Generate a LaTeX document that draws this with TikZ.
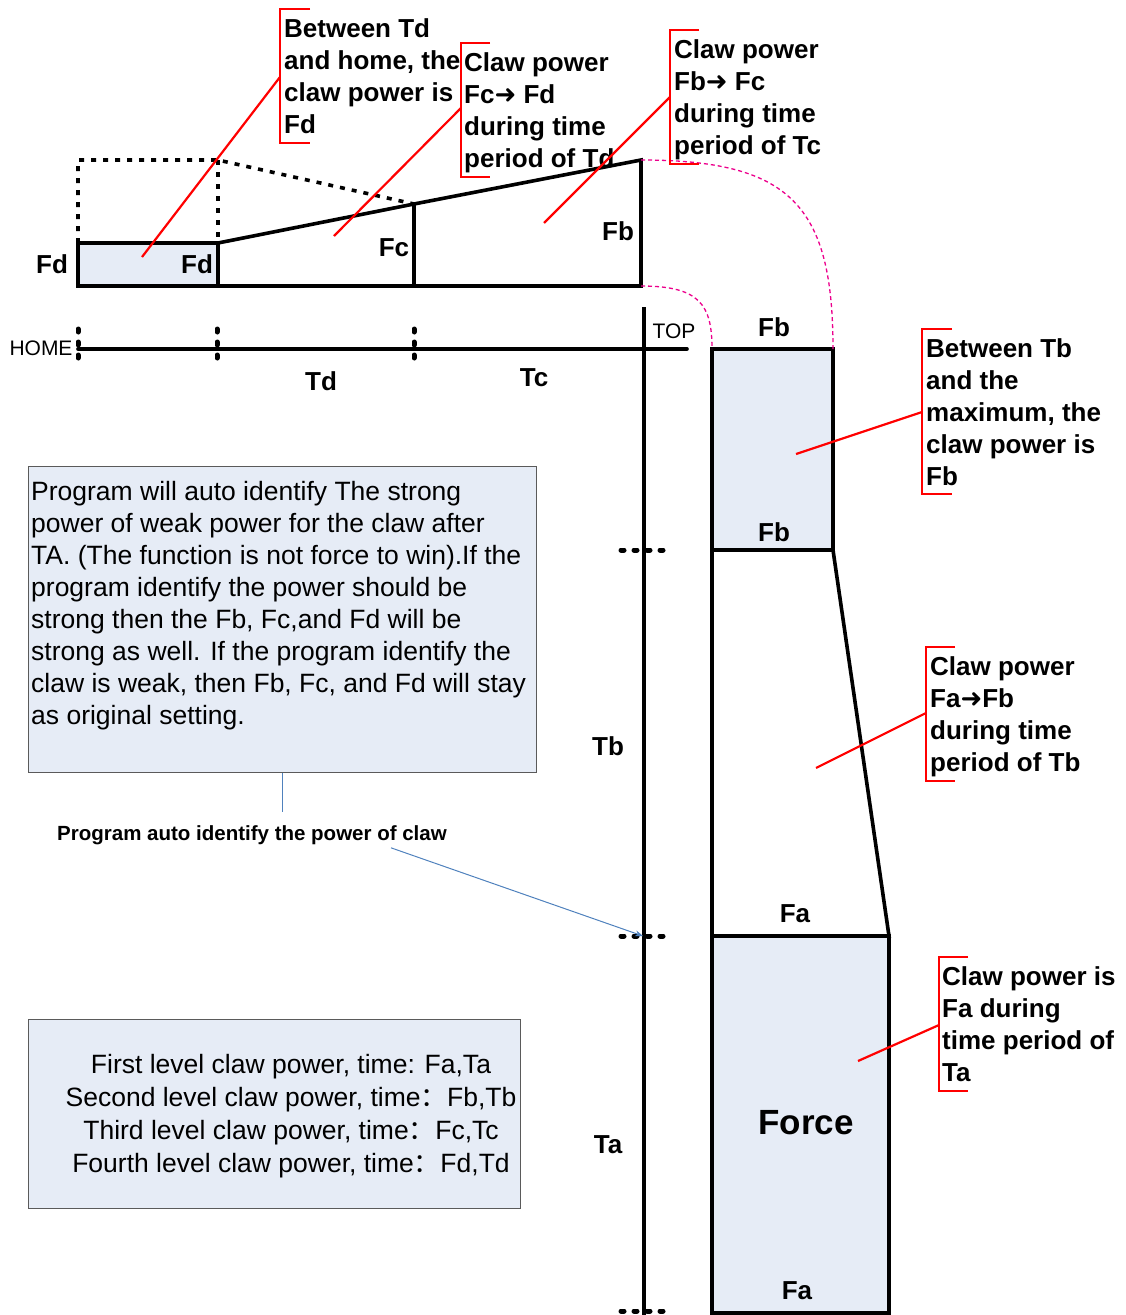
\documentclass[tikz,border=0pt]{standalone}
\usepackage{fontspec}
\setmainfont{Liberation Sans}
\newfontfamily\symf{DejaVu Sans}
\newfontfamily\cjkf{Noto Sans CJK SC}
\usetikzlibrary{arrows.meta}
\definecolor{boxblue}{RGB}{230,236,246}
\definecolor{boxgray}{RGB}{90,90,90}
\definecolor{linkblue}{RGB}{79,129,189}
\tikzset{
 thk/.style={line width=3.6pt},
 dotl/.style={line width=3.6pt, dash pattern=on 5pt off 7pt},
 tickd/.style={line width=5pt, line cap=round, dash pattern=on 3pt off 10pt},
 redc/.style={draw=red, line width=2.2pt},
 mag/.style={draw=magenta, line width=1.3pt, dash pattern=on 4pt off 3pt},
 lbl/.style={font=\bfseries\fontsize{26}{30}\selectfont, inner sep=0pt},
 small/.style={font=\fontsize{21}{24}\selectfont, inner sep=0pt},
 call/.style={font=\bfseries\fontsize{26}{32}\selectfont, align=left, anchor=north west, inner sep=0pt},
 para/.style={font=\fontsize{26.5}{32}\selectfont, align=left, anchor=north west, inner sep=0pt},
 tbox/.style={draw=boxgray, fill=boxblue, line width=1.2pt, inner sep=0pt, anchor=north west},
 bluel/.style={draw=linkblue, line width=1pt},
}
\newcommand{\arr}{{\symf\bfseries ➜}}
\newcommand{\fwc}{{\cjkf ：}}
\begin{document}
\begin{tikzpicture}[x=1pt,y=-1pt]
\path[use as bounding box] (0,0) rectangle (1126,1315);

% ---------- top chart ----------
\coordinate (d0) at (78,243);
\coordinate (d1) at (218,243);
\coordinate (c1) at (414,204);
\coordinate (fbtop) at (641,160);
\coordinate (fbbot) at (641,286);
\coordinate (b0) at (78,286);
\fill[boxblue] (78,243) rectangle (218,286);
\draw[dotl] (d0) -- (78,160) -- (218,160) -- (c1);
\draw[dotl] (218,160) -- (d1);
\draw[thk] (d0) -- (d1) -- (c1) -- (fbtop) -- (fbbot) -- (b0) -- cycle;
\draw[thk] (d1) -- (218,286);
\draw[thk] (c1) -- (414,286);
\node[lbl] (fdout) at (52,264) {Fd};
\node[lbl] (fdin) at (197,264) {Fd};
\node[lbl] (fclab) at (394,248) {Fc};
\node[lbl] (fblab) at (618,231) {Fb};

% ---------- axes ----------
\draw[thk, line cap=round] (78,349) -- (687,349);
\draw[tickd] (78,329) -- (78,362);
\draw[tickd] (217,329) -- (217,362);
\draw[tickd] (414,329) -- (414,362);
\draw[thk] (644,307) -- (644,1315);
\draw[tickd] (621,550) -- (668,550);
\draw[tickd] (621,936) -- (668,936);
\draw[tickd] (621,1311) -- (668,1311);
\node[small] (home) at (41,348) {HOME};
\node[small] (top) at (674,331) {TOP};
\node[lbl] (td) at (321,381) {Td};
\node[lbl] (tc) at (534,378) {Tc};
\node[lbl] (tb) at (608,746) {Tb};
\node[lbl] (ta) at (608,1145) {Ta};

% ---------- right chart ----------
\coordinate (rtl) at (712,349);
\coordinate (rtr) at (833,349);
\filldraw[fill=boxblue, thk] (rtl) rectangle (833,550);
\draw[fill=white, thk] (712,550) -- (833,550) -- (889,936) -- (712,936) -- cycle;
\filldraw[fill=boxblue, thk] (712,936) rectangle (889,1313);
\node[lbl] (fb1) at (774,327) {Fb};
\node[lbl] (fb2) at (774,532) {Fb};
\node[lbl] (fa1) at (795,914) {Fa};
\node[font=\bfseries\fontsize{35}{40}\selectfont, inner sep=0pt] (force) at (806,1123) {Force};
\node[lbl] (fa2) at (797,1291) {Fa};

% magenta guides
\draw[mag] (fbtop) .. controls (790,160) and (833,205) .. (rtr);
\draw[mag] (fbbot) .. controls (700,286) and (712,305) .. (rtl);

% ---------- red callouts ----------
% 1
\draw[redc] (310,9) -- (280,9) -- (280,143) -- (310,143);
\coordinate (k1) at (280,77); \coordinate (p1) at (142,257);
\draw[redc] (k1) -- (p1);
\node[call] (n1) at (284,18) {Between Td\\and home, the\\claw power is\\Fd};
% 2
\draw[redc] (490,43) -- (461,43) -- (461,177) -- (490,177);
\coordinate (k2) at (461,108); \coordinate (p2) at (334,236);
\draw[redc] (k2) -- (p2);
\node[call] (n2) at (464,52) {Claw power\\Fc\arr{} Fd\\during time\\period of Td};
% 3
\draw[redc] (699,30) -- (670,30) -- (670,164) -- (699,164);
\coordinate (k3) at (670,97); \coordinate (p3) at (544,223);
\draw[redc] (k3) -- (p3);
\node[call] (n3) at (674,39) {Claw power\\Fb\arr{} Fc\\during time\\period of Tc};
% 4
\draw[redc] (952,329) -- (922,329) -- (922,494) -- (952,494);
\coordinate (k4) at (922,412); \coordinate (p4) at (796,454);
\draw[redc] (k4) -- (p4);
\node[call] (n4) at (926,338) {Between Tb\\and the\\maximum, the\\claw power is\\Fb};
% 5
\draw[redc] (955,647) -- (926,647) -- (926,781) -- (955,781);
\coordinate (k5) at (926,713); \coordinate (p5) at (816,768);
\draw[redc] (k5) -- (p5);
\node[call] (n5) at (930,656) {Claw power\\Fa\arr{}Fb\\during time\\period of Tb};
% 6
\draw[redc] (968,957) -- (939,957) -- (939,1091) -- (968,1091);
\coordinate (k6) at (939,1025); \coordinate (p6) at (858,1061);
\draw[redc] (k6) -- (p6);
\node[call] (n6) at (942,966) {Claw power is\\Fa during\\time period of\\Ta};

% ---------- text boxes ----------
\node[tbox, minimum width=508pt, minimum height=306pt] (box1) at (28,466) {};
\node[para] (t1) at (31,481) {Program will auto identify The strong\\power of weak power for the claw after\\TA. (The function is not force to win).If the\\program identify the power should be\\strong then the Fb, Fc,and Fd will be\\strong as well. If the program identify the\\claw is weak, then Fb, Fc, and Fd will stay\\as original setting.};
\node[font=\bfseries\fontsize{20.5}{24}\selectfont, inner sep=0pt] (pal) at (252,835) {Program auto identify the power of claw};
\draw[bluel] (box1.south) -- ([yshift=13pt]box1.south |- pal.north);
\coordinate (ta0) at (643,936);
\draw[bluel, -{Stealth[length=8pt,width=6pt]}] ([xshift=-56pt,yshift=-3pt]pal.south east) -- (ta0);

\node[tbox, minimum width=492pt, minimum height=189pt] (box2) at (28,1019) {};
\node[font=\fontsize{26.5}{33}\selectfont, align=center, inner sep=0pt, anchor=north] (t2) at (291,1054) {First level claw power, time: Fa,Ta\\Second level claw power, time\fwc Fb,Tb\\Third level claw power, time\fwc Fc,Tc\\Fourth level claw power, time\fwc Fd,Td};
\end{tikzpicture}
\end{document}
